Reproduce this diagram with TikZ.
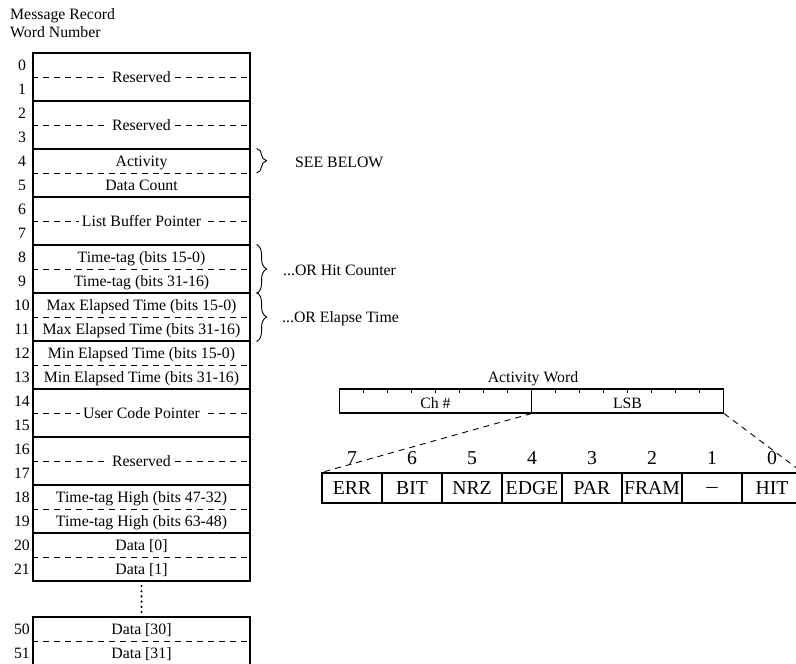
\documentclass[tikz,border=0pt]{standalone}
\usepackage{fontspec}
\setmainfont{Liberation Serif}
\usetikzlibrary{decorations.pathreplacing}
\tikzset{
  txt/.style={font=\fontsize{15.8}{19}\selectfont, inner sep=0pt, text height=10.5pt, text depth=0pt},
  cell/.style={draw, line width=1.1pt, minimum width=217pt, minimum height=48pt, inner sep=0pt},
  sepline/.style={dash pattern=on 6pt off 5pt, line width=0.9pt},
  cover/.style={txt, fill=white, inner xsep=3pt, inner ysep=3pt},
  bitbox/.style={draw, line width=1.1pt, minimum width=60pt, minimum height=30pt, inner sep=0pt,
    font=\fontsize{19.7}{23}\selectfont, text height=13pt, text depth=0pt},
  bitnum/.style={font=\fontsize{19.7}{23}\selectfont, inner sep=0pt, text height=13pt, text depth=0pt},
  brc/.style={decorate, decoration={brace, amplitude=10pt}, line width=0.9pt},
  wordbox/.style={draw, line width=1.1pt, minimum width=384pt, minimum height=24pt, inner sep=0pt},
  tick/.style={line width=0.9pt},
}
\begin{document}
\begin{tikzpicture}[x=1pt,y=-1pt]
\useasboundingbox (0,0) rectangle (796,664);

% header
\node[txt, anchor=base west] (h1) at (10,19.5) {Message Record};
\node[txt, anchor=base west] (h2) at (10,37.5) {Word Number};

% groups of two words
\foreach \k in {0,...,10} {
  \node[cell] (g\k) at (141.5, {77+48*\k}) {};
  \draw[sepline] (g\k.west) -- (g\k.east);
}
\node[cell] (g11) at (141.5, 641) {};
\draw[sepline] (g11.west) -- (g11.east);

% word numbers
\foreach \w in {0,...,21} \node[txt] (n\w) at (22, {65+24*\w}) {\w};
\node[txt] (n50) at (22,629) {50};
\node[txt] (n51) at (22,653) {51};

% labels spanning two words
\foreach \k/\t in {0/Reserved,1/Reserved,3/List Buffer Pointer,7/User Code Pointer,8/Reserved}
  \node[cover] (d\k) at (g\k.center) {\t};

% single word labels
\foreach \w/\t in {4/Activity,5/Data Count,8/Time-tag (bits 15-0),9/Time-tag (bits 31-16),
  10/Max Elapsed Time (bits 15-0),11/Max Elapsed Time (bits 31-16),
  12/Min Elapsed Time (bits 15-0),13/Min Elapsed Time (bits 31-16),
  18/Time-tag High (bits 47-32),19/Time-tag High (bits 63-48),20/Data [0],21/Data [1]}
  \node[txt] (t\w) at (141.5, {65+24*\w}) {\t};
\node[txt] (t50) at (141.5,629) {Data [30]};
\node[txt] (t51) at (141.5,653) {Data [31]};

% continuation dots
\foreach \i in {0,...,5} \fill (141.5, {586+5.2*\i}) circle (1.2pt);

% braces
\draw[brc] ([xshift=6pt]g2.north east) -- ([xshift=6pt]g2.east);
\draw[brc] ([xshift=6pt]g4.north east) -- ([xshift=6pt]g4.south east);
\draw[brc] ([xshift=6pt]g5.north east) -- ([xshift=6pt]g5.south east);
\node[txt, anchor=west] (sb) at (295,162) {SEE BELOW};
\node[txt, anchor=west] (hc) at (283,270) {...OR Hit Counter};
\node[txt, anchor=west] (et) at (282,317) {...OR Elapse Time};

% activity word
\node[txt] (awt) at (533,377) {Activity Word};
\node[wordbox] (aw) at (531.5,401) {};
\draw[line width=1.1pt] (aw.north) -- (aw.south);
\foreach \k in {1,...,7,9,10,...,15}
  \draw[tick] ([xshift=24*\k]aw.north west) -- ++(0,5);
\node[txt] (ch) at (435.5,403) {Ch \#};
\node[txt] (lsb) at (627.5,403) {LSB};

% bit boxes
\foreach \i/\t in {0/ERR,1/BIT,2/NRZ,3/EDGE,4/PAR,5/FRAM,6/\scalebox{1.25}[1]{−},7/HIT} {
  \pgfmathtruncatemacro\bn{7-\i}
  \node[bitbox] (b\i) at ({352+60*\i}, 488) {\t};
  \node[bitnum] (bn\i) at ({352+60*\i}, 458) {\bn};
}
\draw[sepline] (aw.south) -- (b0.north west);
\draw[sepline] (aw.south east) -- (b7.north east);
\end{tikzpicture}
\end{document}
